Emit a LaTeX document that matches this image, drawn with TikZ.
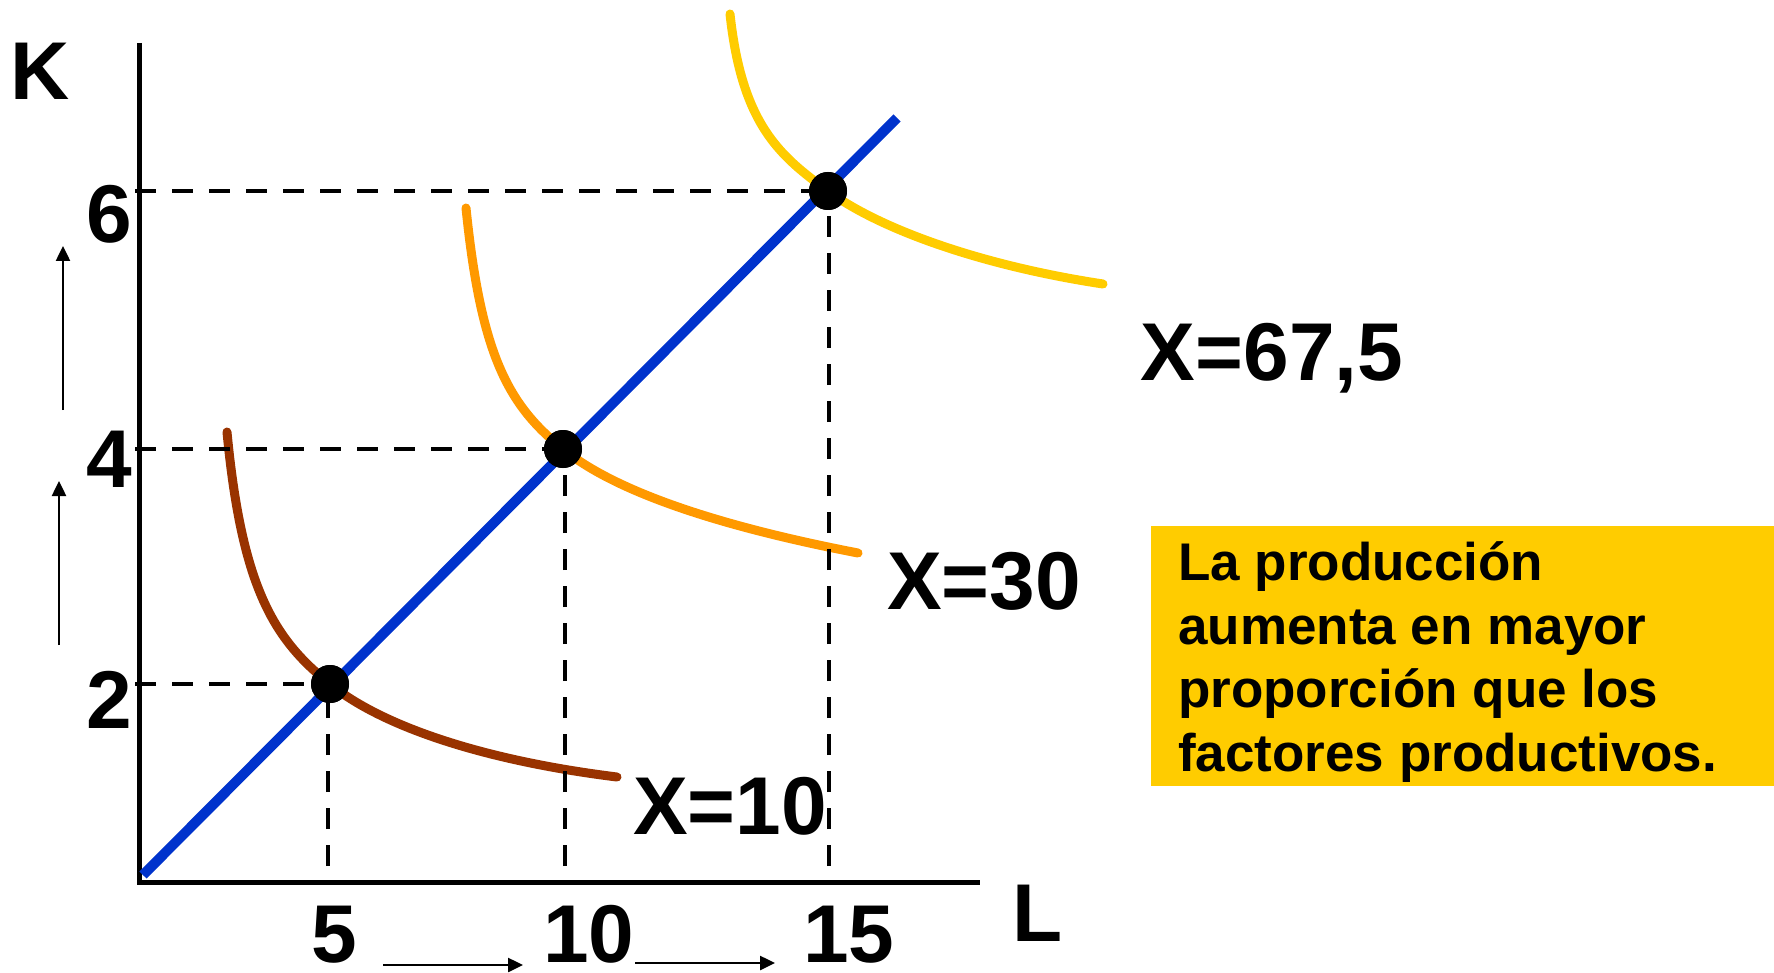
\documentclass[tikz,border=0pt]{standalone}
\usepackage{fontspec}
\setmainfont{Liberation Sans}
\usetikzlibrary{arrows.meta}
\definecolor{bl}{RGB}{0,51,204}
\definecolor{br}{RGB}{153,51,0}
\definecolor{og}{RGB}{255,153,0}
\definecolor{yl}{RGB}{255,204,0}
\begin{document}
\begin{tikzpicture}[x=1pt,y=-1pt,
  big/.style={font=\fontsize{82}{98}\selectfont\bfseries, inner sep=0pt, anchor=base},
  guide/.style={line width=4.5pt, dash pattern=on 21pt off 16pt},
  iso/.style={line width=9pt, line cap=round},
  dot/.style={circle, fill=black, minimum size=38pt, inner sep=0pt},
  move/.style={line width=2.5pt, -{Triangle[length=15pt,width=14pt]}},
  axis/.style={line width=5pt},
]
\useasboundingbox (0,0) rectangle (1774,973);
% axes
\coordinate (ytop) at (139,43);
\coordinate (orig) at (139,882);
\coordinate (xend) at (980,882);
\draw[axis] (ytop) -- (orig) -- (xend);
% expansion path
\coordinate (r0) at (143,875);
\coordinate (r1) at (897,118);
\draw[bl, line width=10pt] (r0) -- (r1);
% points
\node[dot] (p1) at (330,684) {};
\node[dot] (p2) at (563,449) {};
\node[dot] (p3) at (828,191) {};
% isoquants
\coordinate (b0) at (227,432); \coordinate (b1) at (617,777);
\coordinate (o0) at (466,208); \coordinate (o1) at (858,553);
\coordinate (y0) at (730,14);  \coordinate (y1) at (1103,284);
\draw[iso, br] (b0) .. controls (242,590) and (275,640) .. (p1.center)
  .. controls (380,725) and (480,760) .. (b1);
\draw[iso, og] (o0) .. controls (481,355) and (508,405) .. (p2.center)
  .. controls (613,490) and (713,525) .. (o1);
\draw[iso, yl] (y0) .. controls (742,125) and (780,156) .. (p3.center)
  .. controls (878,228) and (978,265) .. (y1);
% guides
\coordinate (h1) at (135,684);
\coordinate (h2) at (135,449);
\coordinate (h3) at (135,191);
\coordinate (v1) at (328,866);
\coordinate (v2) at (565,866);
\coordinate (v3) at (829,866);
\draw[guide] (h1) -- (p1.center);
\draw[guide] (h2) -- (p2.center);
\draw[guide] (h3) -- (p3.center);
\draw[guide] (v1) -- (v1 |- p1.center);
\draw[guide] (v2) -- (v2 |- p2.center);
\draw[guide] (v3) -- (v3 |- p3.center);
\node[dot] at (p1) {};
\node[dot] at (p2) {};
\node[dot] at (p3) {};
% axis labels
\node[big] (K) at (40,100) {K};
\node[big] (L) at (1038,941) {L};
\node[big] (k6) at (109,243) {6};
\node[big] (k4) at (109,487) {4};
\node[big] (k2) at (109,728) {2};
\node[big] (l5) at (334,962) {5};
\node[big] (l10) at (589,962) {10};
\node[big] (l15) at (849,962) {15};
% isoquant labels
\node[big] (x3) at (1272,381) {X=67,5};
\node[big] (x2) at (984,609) {X=30};
\node[big] (x1) at (730,834) {X=10};
% movement arrows
\coordinate (a1s) at (63,410); \coordinate (a1e) at (63,246);
\coordinate (a2s) at (59,645); \coordinate (a2e) at (59,481);
\coordinate (b1s) at (383,965); \coordinate (b1e) at (523,965);
\coordinate (b2s) at (635,963); \coordinate (b2e) at (775,963);
\draw[move] (a1s) -- (a1e);
\draw[move] (a2s) -- (a2e);
\draw[move] (b1s) -- (b1e);
\draw[move] (b2s) -- (b2e);
% note box
\node[fill=yl, anchor=north west, minimum width=640pt, minimum height=260pt, inner sep=0pt] (box) at (1151,526) {};
\node[anchor=base west, inner sep=0pt, align=left, font=\fontsize{53}{63.5}\selectfont\bfseries] (note) at (1178,771) {La producción\\aumenta en mayor\\proporción que los\\factores productivos.};
\end{tikzpicture}
\end{document}
